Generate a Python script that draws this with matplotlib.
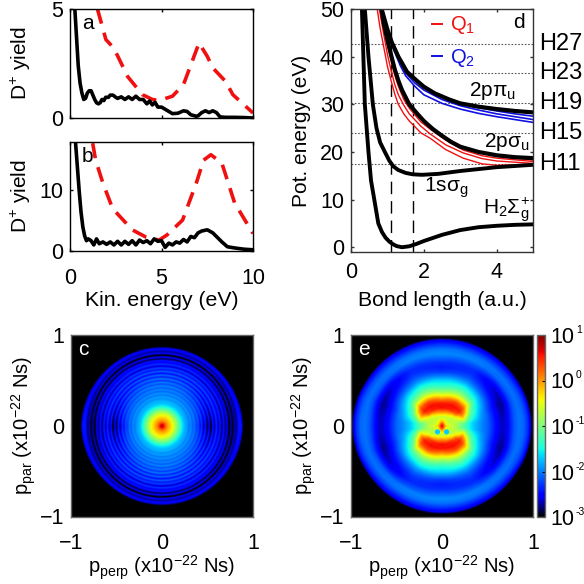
import numpy as np
import matplotlib
matplotlib.use('Agg')
import matplotlib.pyplot as plt
from matplotlib.colors import ListedColormap, LogNorm

plt.rcParams['font.family'] = ['Liberation Sans', 'DejaVu Sans']
plt.rcParams['mathtext.default'] = 'regular'
plt.rcParams['axes.linewidth'] = 1.0

# panel a
a_black_x = [0.25, 0.35, 0.45, 0.55, 0.65, 0.75, 0.85, 0.95, 1.05, 1.15, 1.25, 1.35, 1.45, 1.55, 1.65, 1.75, 1.85, 1.95,
             2.1, 2.2, 2.35, 2.5, 2.6, 2.8, 3.0, 3.2, 3.4, 3.6, 3.8, 4.0, 4.2, 4.35, 4.5, 4.65, 4.8, 5.0, 5.2, 5.4, 5.6, 5.9, 6.2,
             6.4, 6.6, 6.9, 7.0, 7.2, 7.4, 7.6, 7.8, 8.0, 8.2, 8.5, 9.0, 9.5, 10.0]
a_black_y = [5.2, 3.8, 2.4, 1.6, 1.15, 0.85, 0.9, 1.15, 1.25, 1.25, 1.05, 0.85, 0.7, 0.65, 0.7, 0.85, 0.8, 0.95,
             0.95, 1.05, 1.05, 0.95, 0.9, 0.97, 0.85, 0.97, 0.85, 1.0, 0.85, 0.85, 0.65, 0.78, 0.6, 0.72, 0.5, 0.5, 0.4, 0.3, 0.2, 0.22, 0.33,
             0.3, 0.15, 0.08, 0.1, 0.25, 0.33, 0.25, 0.33, 0.25, 0.05, 0.03, 0.03, 0.02, 0.0]
a_red_x = [1.5, 1.96, 2.4, 3.15, 3.96, 4.5, 4.87, 5.6, 6.2, 7.05, 7.5, 7.8, 8.5, 8.9, 10.0]
a_red_y = [5.0, 3.6, 3.2, 1.9, 1.07, 0.85, 0.8, 1.0, 1.53, 3.44, 2.83, 2.3, 1.68, 1.07, 0.23]

# panel b
b_black_x = [0.3, 0.4, 0.5, 0.6, 0.7, 0.8, 0.9, 1.0, 1.15, 1.3, 1.45, 1.6, 1.8, 2.0, 2.2, 2.4, 2.6, 2.8, 3.0, 3.2, 3.4, 3.6,
             3.8, 4.0, 4.2, 4.4, 4.6, 4.8, 5.0, 5.2, 5.4, 5.6, 5.8, 6.0, 6.2, 6.4, 6.6, 6.8, 7.0, 7.2, 7.5, 7.8, 8.0,
             8.3, 8.6, 9.0, 9.5, 10.0]
b_black_y = [18.0, 14.0, 10.0, 6.5, 4.0, 2.5, 1.7, 2.0, 1.7, 1.0, 2.0, 1.2, 1.5, 1.1, 1.5, 1.0, 1.6, 1.0, 1.6, 1.1, 1.7, 1.0,
             1.8, 1.4, 1.7, 1.2, 2.0, 1.6, 1.7, 0.6, 1.3, 1.0, 1.5, 1.3, 1.9, 1.5, 2.4, 2.2, 3.0, 3.3, 3.5, 3.0, 2.4,
             1.5, 0.7, 0.5, 0.3, 0.2]
b_red_x = [1.24, 1.4, 1.8, 2.33, 3.4, 4.15, 4.87, 5.3, 6.15, 6.9, 7.3, 7.7, 8.3, 9.0, 10.0]
b_red_y = [17.8, 15.0, 11.2, 7.0, 3.5, 2.3, 1.8, 2.65, 5.1, 11.2, 15.0, 15.9, 14.5, 7.9, 2.9]

# panel d, potential curves
ground_r = [0.3, 0.34, 0.38, 0.48, 0.55, 0.64, 0.75, 0.85, 0.95, 1.05, 1.15, 1.25, 1.4, 1.6, 1.8, 2.0, 2.5, 3.0, 3.5, 4.0, 4.5, 5.0]
ground_e = [50, 40, 30, 20, 14, 10, 5, 3.2, 2.0, 1.2, 0.65, 0.25, 0.0, 0.2, 0.7, 1.3, 2.6, 3.6, 4.2, 4.5, 4.7, 4.8]
sigma_g_r = [0.38, 0.48, 0.6, 0.7, 0.8, 0.93, 1.05, 1.16, 1.3, 1.5, 1.7, 1.95, 2.4, 3.0, 4.0, 5.0]
sigma_g_e = [50, 40, 30, 25, 22, 20, 18.2, 17, 16.2, 15.6, 15.3, 15.2, 15.4, 16.0, 16.8, 17.3]
sigma_u_r = [0.84, 0.9, 1.0, 1.1, 1.2, 1.3, 1.4, 1.6, 1.8, 2.0, 2.25, 2.5, 2.75, 3.0, 3.5, 4.0, 4.5, 5.0]
sigma_u_e = [50, 47, 43.5, 40.4, 37.4, 35, 33, 30, 28.2, 26.5, 24.8, 23.4, 22.1, 21.1, 20, 19.3, 18.9, 18.7]
pi_u_r = [0.84, 1.0, 1.12, 1.3, 1.54, 1.8, 2.0, 2.3, 2.7, 3.0, 3.5, 4.0, 4.5, 5.0]
pi_u_e = [50, 45.7, 43, 40, 36.8, 35, 33.7, 32.3, 31, 30.2, 29.5, 29, 28.6, 28.3]

q1_r = [0.72, 0.8, 0.88, 1.0, 1.1, 1.2, 1.3, 1.45, 1.6, 1.92, 2.17, 2.6, 3.08, 3.6, 4.0, 5.0]
q1_low = [50, 46, 42.8, 38, 35, 32.2, 30, 28, 26.5, 24, 22.9, 20.5, 18.7, 17.5, 17.2, 17.4]
q1_mid = [53, 49, 45.5, 40.5, 37.2, 34.2, 32, 29.8, 28, 25.4, 23.8, 21.5, 19.8, 18.6, 18.1, 17.6]
q1_high = [56, 52, 48, 42.5, 39.2, 36.2, 33.8, 31, 29.2, 26.3, 24.8, 22.5, 20.4, 19.2, 18.7, 18.0]
q1_top = [57, 53, 49, 43.5, 40, 37, 34.6, 31.7, 29.8, 27, 25.4, 23, 21, 19.8, 19.1, 18.3]
q2_r = [1.1, 1.2, 1.35, 1.5, 1.75, 2.0, 2.5, 3.0, 3.5, 4.0, 4.5, 5.0]
q2_low = [43, 41, 38.2, 36, 33.8, 32, 30.2, 29, 28.1, 27.4, 26.8, 26.2]
q2_mid = [43, 41.5, 38.9, 36.6, 34.5, 33, 31, 29.7, 28.8, 28, 27.4, 26.8]
q2_high = [43, 42, 39.5, 37.2, 35.2, 33.5, 31.4, 30.1, 29.3, 28.6, 28, 27.5]

harmonics = [42.7, 36.6, 30.2, 24.0, 17.4]
harmonic_names = ['H27', 'H23', 'H19', 'H15', 'H11']
pulse_r = [1.1, 1.7]

# panel c, log10 yield against radius, along the axis and out to the sides
c_radius = [0.0, 0.02, 0.04, 0.06, 0.08, 0.10, 0.13, 0.17, 0.22, 0.25, 0.28, 0.30, 0.32, 0.34, 0.36, 0.38, 0.40, 0.42,
            0.44, 0.46, 0.48, 0.50, 0.52, 0.54, 0.56, 0.58, 0.60, 0.62, 0.64, 0.66, 0.68, 0.70, 0.72, 0.74, 0.76, 0.78,
            0.80, 0.82, 0.84, 0.86, 0.88, 0.90, 0.92]
c_log_top = [0.85, 0.6, 0.25, 0.0, -0.15, -0.3, -0.55, -1.0, -1.55, -1.75, -1.8, -1.95, -1.85, -2.05, -1.9, -2.1, -1.95, -2.15,
             -1.95, -2.2, -2.0, -2.3, -2.0, -2.4, -2.05, -2.5, -2.1, -2.45, -2.2, -2.7, -2.25, -2.55, -2.4, -2.9,
             -2.45, -3.1, -2.5, -2.75, -2.55, -2.6, -3.2, -4.0, -4.0]
c_log_side = [0.85, 0.6, 0.25, 0.0, -0.15, -0.3, -0.55, -1.0, -1.55, -1.8, -1.9, -2.05, -1.95, -2.15, -2.05, -2.3, -2.2, -2.5,
              -2.3, -2.8, -2.35, -3.0, -2.45, -3.1, -2.4, -2.8, -2.3, -2.75, -2.35, -2.9, -2.4, -2.85, -2.5, -3.1,
              -2.65, -3.0, -2.65, -2.85, -2.45, -2.4, -2.45, -3.2, -4.0]
c_theta = [0, 90]

# panel e, log10 yield on a polar table, angle taken from the p_par axis
e_radius = [0, 0.05, 0.1, 0.15, 0.2, 0.25, 0.3, 0.35, 0.4, 0.45, 0.5, 0.55, 0.6, 0.65, 0.7, 0.75, 0.8, 0.85, 0.9, 0.95, 0.98, 1.0]
e_theta = [0, 30, 50, 60, 70, 84, 90]
e_log_0 = [0.8, -0.1, -0.7, 0.05, 0.6, 0.55, 0.0, -0.6, -1.1, -1.45, -1.65, -2.0, -2.3, -2.4, -2.3, -2.1, -1.95, -2.05, -2.3, -2.6, -3.2, -4]
e_log_30 = [0.8, -0.3, -0.7, -0.2, 0.5, 0.6, 0.35, -0.3, -0.85, -1.25, -1.55, -1.9, -2.15, -2.3, -2.35, -2.2, -2.0, -2.05, -2.3, -2.6, -3.2, -4]
e_log_50 = [0.8, -0.4, -0.7, -0.6, 0.2, 0.55, 0.3, -0.3, -1.0, -1.4, -1.7, -2.05, -2.3, -2.5, -2.6, -2.4, -2.1, -2.05, -2.25, -2.55, -3.1, -4]
e_log_60 = [0.8, -0.45, -0.7, -0.65, -0.3, 0.2, -0.2, -1.0, -1.35, -1.6, -1.9, -2.15, -2.4, -2.6, -2.7, -2.45, -2.15, -2.05, -2.2, -2.5, -3.0, -3.8]
e_log_70 = [0.8, -0.5, -0.7, -0.7, -0.6, -0.3, -0.9, -1.3, -1.55, -1.85, -2.05, -2.3, -2.5, -2.7, -2.75, -2.5, -2.2, -2.05, -2.15, -2.4, -2.8, -3.6]
e_log_84 = [0.8, -0.5, -0.65, -0.75, -1.0, -1.2, -1.5, -1.7, -1.85, -2.0, -2.1, -2.3, -2.5, -2.65, -2.65, -2.4, -2.15, -2.05, -2.1, -2.35, -2.7, -3.2]
e_log_90 = [0.8, 0.1, -0.6, -0.7, -1.0, -1.2, -1.5, -1.7, -1.85, -2.0, -2.1, -2.3, -2.5, -2.65, -2.65, -2.4, -2.15, -2.05, -2.1, -2.35, -2.7, -3.2]
e_spot_x = [-0.05, 0.05]
e_spot_y = [-0.07, -0.07]
e_spot_value = [0.02, 0.02]

cbar_ticks = [1e-3, 1e-2, 1e-1, 1e0, 1e1]
cbar_powers = ['-3', '-2', '-1', '0', '1']


def new_axes(left, top, right, bottom):
    # pixel box of the 584x584 picture
    return fig.add_axes([left / 584, 1 - bottom / 584, (right - left) / 584, (bottom - top) / 584])


def style_axes(ax, color='k', xpad=12):
    ax.tick_params(direction='in', length=2, width=1, top=True, right=True, labelsize=15.5, color=color)
    ax.tick_params(axis='x', pad=xpad)
    ax.tick_params(axis='y', pad=5)
    for s in ax.spines.values():
        s.set_color(color)


def yield_panel(ax, black_x, black_y, red_x, red_y, top, yticks, letter):
    ax.plot(red_x, red_y, color='#f01010', lw=2.6, ls=(0, (4.2, 2.6)))
    ax.plot(black_x, black_y, color='k', lw=2.6)
    ax.set_xlim(0, 10)
    ax.set_ylim(0, top)
    ax.set_xticks([0, 5, 10])
    ax.set_yticks(yticks)
    ax.set_ylabel('D$^{+}$ yield', fontsize=15, va='center')
    ax.yaxis.set_label_coords(-0.27, 0.5)
    ax.text(0.065, 0.87, letter, transform=ax.transAxes, fontsize=15, va='center')
    style_axes(ax)


def momentum_labels(ax):
    ax.set_xlim(-1, 1)
    ax.set_ylim(-1, 1)
    ax.set_xticks([-1, 0, 1])
    ax.set_yticks([-1, 0, 1])
    ax.set_xlabel('p$_{perp}$ (x10$^{-22}$ Ns)', fontsize=14.5, va='center')
    ax.xaxis.set_label_coords(0.5, -0.28)
    ax.set_ylabel('p$_{par}$ (x10$^{-22}$ Ns)', fontsize=14.5, va='center')
    ax.yaxis.set_label_coords(-0.26, 0.5)
    style_axes(ax, '#666666')
    ax.tick_params(length=0)


fig = plt.figure(figsize=(5.84, 5.84), dpi=100)

ax_a = new_axes(70, 9, 253, 118)
yield_panel(ax_a, a_black_x, a_black_y, a_red_x, a_red_y, 5, [0, 5], 'a')
ax_a.set_xticklabels([])

ax_b = new_axes(70, 142, 253, 251)
yield_panel(ax_b, b_black_x, b_black_y, b_red_x, b_red_y, 18, [0, 10], 'b')
ax_b.set_xlabel('Kin. energy (eV)', fontsize=15.3, va='center')
ax_b.xaxis.set_label_coords(0.5, -0.45)

# potential curves
ax_d = new_axes(351, 9, 533, 252)
for h, name in zip(harmonics, harmonic_names):
    ax_d.axhline(h, color='#555555', lw=0.8, ls=(0, (1.5, 1.5)))
    ax_d.text(1.035, h, name, transform=ax_d.get_yaxis_transform(), fontsize=17, va='center')
for r in pulse_r:
    ax_d.axvline(r, color='k', lw=1.0, ls=(0, (9, 5)))
for curve in [q1_low, q1_mid, q1_high, q1_top]:
    ax_d.plot(q1_r, curve, color='#f01010', lw=1.0)
for curve in [q2_low, q2_mid, q2_high]:
    ax_d.plot(q2_r, curve, color='#1010e0', lw=1.2)
ax_d.plot(ground_r, ground_e, 'k', lw=2.8)
ax_d.plot(sigma_g_r, sigma_g_e, 'k', lw=2.8)
ax_d.plot(sigma_u_r, sigma_u_e, 'k', lw=3.0)
ax_d.plot(pi_u_r, pi_u_e, 'k', lw=3.0)
ax_d.set_xlim(0, 5)
ax_d.set_ylim(-1, 50)
ax_d.set_xticks([0, 2, 4])
ax_d.set_yticks([0, 10, 20, 30, 40, 50])
ax_d.set_xlabel('Bond length (a.u.)', fontsize=15.3, va='center')
ax_d.xaxis.set_label_coords(0.5, -0.198)
ax_d.set_ylabel('Pot. energy (eV)', fontsize=15, va='center')
ax_d.yaxis.set_label_coords(-0.27, 0.5)
style_axes(ax_d, '#333333', xpad=7.5)
ax_d.plot([0.445, 0.50], [0.938, 0.938], transform=ax_d.transAxes, color='#f01010', lw=1.4)
ax_d.plot([0.445, 0.50], [0.805, 0.805], transform=ax_d.transAxes, color='#1010e0', lw=1.4)
ax_d.text(0.545, 0.935, 'Q$_{1}$', transform=ax_d.transAxes, color='#f01010', fontsize=14.5, va='center')
ax_d.text(0.545, 0.80, 'Q$_{2}$', transform=ax_d.transAxes, color='#1010e0', fontsize=14.5, va='center')
ax_d.text(0.955, 0.945, 'd', transform=ax_d.transAxes, fontsize=15, ha='right', va='center')
ax_d.text(3.23, 32.7, '2pπ$_{u}$', fontsize=15, va='center')
ax_d.text(3.65, 22.0, '2pσ$_{u}$', fontsize=15, va='center')
ax_d.text(2.0, 12.4, '1sσ$_{g}$', fontsize=15, va='center')
ax_d.text(3.63, 7.8, 'H$_{2}$Σ$_{g}^{+}$', fontsize=15, va='center')

# colour scale: jet that fades to black at the low end
jet = plt.get_cmap('jet')(np.linspace(0, 1, 256))
low = jet[:29].copy()
low[:, :3] = np.outer(np.linspace(0, 1, 29), [0, 0, 1])
jet[:29] = low
cmap = ListedColormap(jet)
cmap.set_under('k')
norm = LogNorm(1e-3, 10)

px = np.linspace(-1, 1, 364)
gx, gy = np.meshgrid(px, px)
gr = np.hypot(gx, gy)
gt = np.degrees(np.arctan2(np.abs(gx), np.abs(gy)))

# panel c
ax_c = new_axes(71, 334, 253, 517)
top_map = np.interp(gr, c_radius, c_log_top, right=-6)
side_map = np.interp(gr, c_radius, c_log_side, right=-6)
side_weight = np.interp(gt, c_theta, [0, 1]) ** 2
c_map = top_map * (1 - side_weight) + side_map * side_weight
ax_c.imshow(10.0 ** c_map, extent=[-1, 1, -1, 1], origin='lower', cmap=cmap, norm=norm, interpolation='bilinear')
ax_c.text(-0.92, 0.84, 'c', color='w', fontsize=15, va='center')
momentum_labels(ax_c)

# panel e
ax_e = new_axes(351, 334, 533, 517)
e_rows = [e_log_0, e_log_30, e_log_50, e_log_60, e_log_70, e_log_84, e_log_90]
by_row = np.array([np.interp(gr, e_radius, row, right=-6) for row in e_rows])
e_map = np.zeros_like(gr)
for i in range(len(e_theta) - 1):
    inside = (gt >= e_theta[i]) & (gt <= e_theta[i + 1])
    w = (gt - e_theta[i]) / (e_theta[i + 1] - e_theta[i])
    e_map[inside] = (by_row[i] * (1 - w) + by_row[i + 1] * w)[inside]
im = ax_e.imshow(10.0 ** e_map, extent=[-1, 1, -1, 1], origin='lower', cmap=cmap, norm=norm, interpolation='bilinear')
ax_e.scatter(e_spot_x, e_spot_y, c=e_spot_value, cmap=cmap, norm=norm, s=14, linewidths=0, zorder=3)
ax_e.text(-0.92, 0.84, 'e', color='w', fontsize=15, va='center')
momentum_labels(ax_e)

cax = new_axes(537, 335, 545, 517)
cb = fig.colorbar(im, cax=cax)
cb.set_ticks(cbar_ticks)
cb.set_ticklabels(['10'] * len(cbar_ticks))
cb.minorticks_off()
cb.ax.tick_params(direction='in', length=2, width=0.8, labelsize=15.5, pad=4, color='k')
cb.outline.set_edgecolor('#666666')
for t, p in zip(cbar_ticks, cbar_powers):
    cax.text(4.85, t, p, transform=cax.get_yaxis_transform(), fontsize=7.5, ha='left', va='bottom')

fig.savefig('out.png', dpi=100)
